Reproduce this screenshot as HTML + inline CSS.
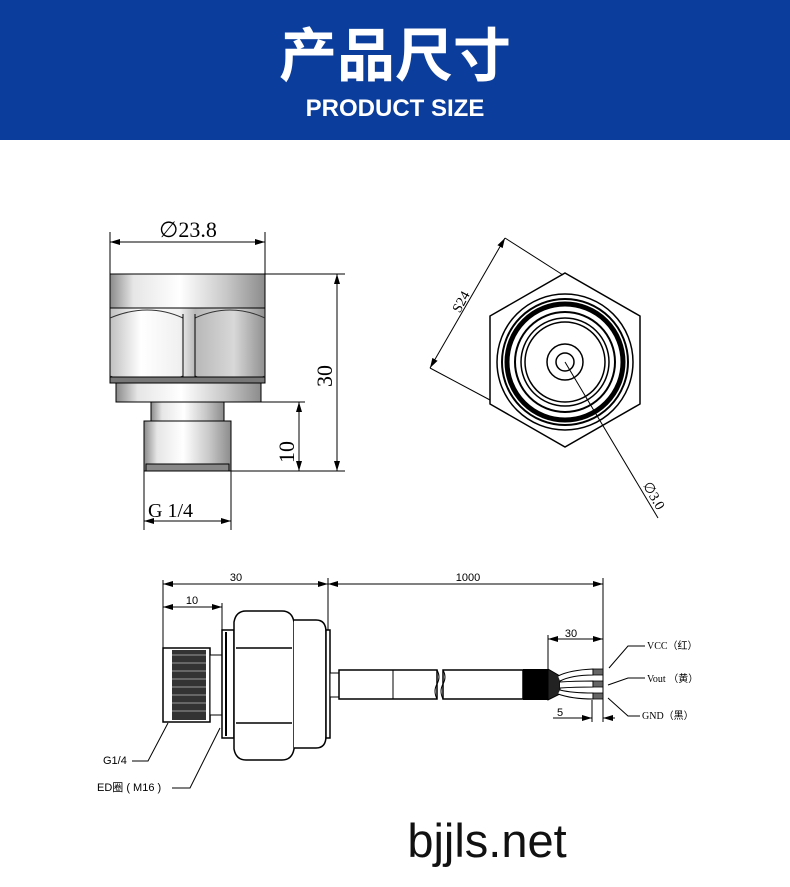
<!DOCTYPE html>
<html><head><meta charset="utf-8"><style>
html,body{margin:0;padding:0;background:#fff;}
body{width:790px;height:887px;overflow:hidden;position:relative;}
.hd{position:absolute;left:0;top:0;width:790px;height:140px;background:#0b3e9c;}
</style></head><body>
<div class="hd"></div>
<svg width="790" height="887" style="position:absolute;left:0;top:0" xmlns="http://www.w3.org/2000/svg">
<defs>
<linearGradient id="m" x1="0" x2="1" y1="0" y2="0">
<stop offset="0" stop-color="#8a8a8a"/><stop offset="0.15" stop-color="#e6e6e6"/><stop offset="0.45" stop-color="#ffffff"/><stop offset="0.75" stop-color="#c8c8c8"/><stop offset="1" stop-color="#8c8c8c"/></linearGradient>
<linearGradient id="h" x1="0" x2="1" y1="0" y2="0">
<stop offset="0" stop-color="#c0c0c0"/><stop offset="0.2" stop-color="#ffffff"/><stop offset="0.45" stop-color="#f0f0f0"/><stop offset="0.55" stop-color="#b8b8b8"/><stop offset="0.8" stop-color="#d8d8d8"/><stop offset="1" stop-color="#909090"/></linearGradient>
<marker id="a" viewBox="0 0 10 6" refX="10" refY="3" markerWidth="10" markerHeight="6" orient="auto-start-reverse" markerUnits="userSpaceOnUse"><path d="M0,0L10,3L0,6z" fill="#000"/></marker>
</defs>
<text x="395" y="76" text-anchor="middle" fill="#fff" font-family="'Noto Sans CJK SC',sans-serif" font-weight="bold" font-size="58">产品尺寸</text>
<text x="395" y="116" text-anchor="middle" fill="#fff" font-family="'Liberation Sans',sans-serif" font-weight="bold" font-size="24">PRODUCT SIZE</text>

<g stroke="#000" stroke-width="1" fill="none">
<line x1="110" y1="232" x2="110" y2="274"/><line x1="265" y1="232" x2="265" y2="274"/>
<line x1="110" y1="242" x2="265" y2="242" marker-start="url(#a)" marker-end="url(#a)"/>
<rect x="110" y="274" width="155" height="34" fill="url(#m)"/>
<rect x="110" y="308" width="155" height="75" fill="url(#h)"/>
<path d="M110,318 Q148,302 183,318 M195,318 Q230,302 265,318 M110,376 Q148,392 183,376 M195,376 Q230,392 265,376" stroke="#333"/>
<line x1="183" y1="314" x2="183" y2="378"/><line x1="195" y1="314" x2="195" y2="378"/>
<rect x="110" y="377" width="155" height="6" fill="#777"/>
<rect x="116" y="383" width="145" height="19" fill="url(#m)"/>
<rect x="151" y="402" width="73" height="20" fill="url(#m)"/>
<rect x="144" y="421" width="87" height="50" fill="url(#m)"/>
<rect x="146" y="464" width="83" height="7" fill="#888"/>
<line x1="265" y1="274" x2="345" y2="274"/><line x1="231" y1="471" x2="345" y2="471"/>
<line x1="337" y1="274" x2="337" y2="471" marker-start="url(#a)" marker-end="url(#a)"/>
<line x1="261" y1="402" x2="305" y2="402"/>
<line x1="299" y1="402" x2="299" y2="471" marker-start="url(#a)" marker-end="url(#a)"/>
<line x1="144" y1="471" x2="144" y2="530"/><line x1="231" y1="471" x2="231" y2="530"/>
<line x1="144" y1="521" x2="231" y2="521" marker-start="url(#a)" marker-end="url(#a)"/>

<polygon points="565,273 640,316 640,404 565,447 490,404 490,316" stroke-width="1.5"/>
<circle cx="565" cy="362" r="68" stroke-width="1.5"/>
<circle cx="565" cy="362" r="63" stroke-width="2"/>
<circle cx="565" cy="362" r="58" stroke-width="5"/>
<circle cx="565" cy="362" r="50" stroke-width="2"/>
<circle cx="565" cy="362" r="44" stroke-width="1.5"/>
<circle cx="565" cy="362" r="40" stroke-width="1.5"/>
<circle cx="565" cy="362" r="18" stroke-width="1.5"/>
<circle cx="565" cy="362" r="9" stroke-width="1.5"/>
<line x1="565" y1="362" x2="658" y2="518"/>
<line x1="505" y1="238" x2="563" y2="275"/>
<line x1="430" y1="368" x2="490" y2="400"/>
<line x1="505" y1="238" x2="430" y2="368" marker-start="url(#a)" marker-end="url(#a)"/>

<line x1="163" y1="580" x2="163" y2="650"/><line x1="222" y1="603" x2="222" y2="630"/>
<line x1="328" y1="578" x2="328" y2="632"/><line x1="603" y1="578" x2="603" y2="722"/>
<line x1="163" y1="584" x2="328" y2="584" marker-start="url(#a)" marker-end="url(#a)"/>
<line x1="328" y1="584" x2="603" y2="584" marker-start="url(#a)" marker-end="url(#a)"/>
<line x1="163" y1="607" x2="222" y2="607" marker-start="url(#a)" marker-end="url(#a)"/>
<rect x="163" y="648" width="47" height="74" fill="#fff" stroke-width="1.5"/>
<rect x="172" y="650" width="34" height="70" fill="#333" stroke="none"/>
<path d="M172,655H206M172,663H206M172,671H206M172,679H206M172,687H206M172,695H206M172,703H206M172,711H206" stroke="#777" stroke-width="1.5"/>
<rect x="210" y="655" width="12" height="60" fill="#fff"/>
<rect x="222" y="630" width="12" height="108" fill="#fff" stroke-width="1.5"/>
<line x1="226" y1="632" x2="226" y2="736" stroke-width="2"/>
<path d="M234,622 Q236,611 246,611 H282 Q292,611 294,622 V749 Q292,760 282,760 H246 Q236,760 234,749Z" fill="#fff" stroke-width="1.5"/>
<line x1="236" y1="648" x2="292" y2="648" stroke-width="1.5"/><line x1="236" y1="723" x2="292" y2="723" stroke-width="1.5"/>
<path d="M294,620 H316 Q326,620 326,632 V736 Q326,748 316,748 H294" fill="#fff" stroke-width="1.5"/>
<rect x="326" y="630" width="4" height="108" fill="#fff" stroke-width="1.5"/>
<rect x="330" y="673" width="9" height="24" fill="#fff"/>
<rect x="339" y="670" width="98" height="29" fill="#fff" stroke-width="1.5"/>
<line x1="393" y1="670" x2="393" y2="699"/>
<rect x="443" y="670" width="80" height="29" fill="#fff" stroke-width="1.5"/>
<path d="M437,670 q4,7 0,14 q-4,7 0,15 M443,670 q4,7 0,14 q-4,7 0,15" />
<rect x="523" y="669" width="25" height="31" fill="#000" stroke="none"/>
<path d="M548,669 L560,676 L560,694 L548,700Z" fill="#222"/>
<path d="M558,676 Q570,670 593,669 V675 Q572,675 560,681 M560,682 Q575,681 593,681 V687 Q575,687 560,688 M560,690 Q572,693 593,693 V699 Q572,699 558,694" fill="#fff"/>
<rect x="593" y="669" width="10" height="6" fill="#666" stroke-width="0.8"/>
<rect x="593" y="681" width="10" height="6" fill="#666" stroke-width="0.8"/>
<rect x="593" y="693" width="10" height="6" fill="#666" stroke-width="0.8"/>
<line x1="548" y1="635" x2="548" y2="670"/>
<line x1="548" y1="639" x2="603" y2="639" marker-start="url(#a)" marker-end="url(#a)"/>
<line x1="592" y1="700" x2="592" y2="722"/>
<line x1="553" y1="718" x2="592" y2="718" marker-end="url(#a)"/>
<line x1="615" y1="718" x2="603" y2="718" marker-end="url(#a)"/>
<polyline points="645,646 628,646 609,668"/>
<polyline points="645,678 628,678 608,685"/>
<polyline points="640,716 628,716 608,698"/>
<polyline points="132,761 148,761 168,723"/>
<polyline points="172,788 190,788 220,728"/>
</g>

<g font-family="'Liberation Serif',serif" fill="#000">
<text x="188" y="237" font-size="22" text-anchor="middle">∅23.8</text>
<text x="148" y="517" font-size="20">G 1/4</text>
<text transform="translate(332,376) rotate(-90)" font-size="22" text-anchor="middle">30</text>
<text transform="translate(294,452) rotate(-90)" font-size="22" text-anchor="middle">10</text>
<text transform="translate(465,304) rotate(-62)" font-size="14" text-anchor="middle">S24</text>
<text transform="translate(650,498) rotate(60)" font-size="14" text-anchor="middle">∅3.0</text>
<g font-size="10"><text x="647" y="649">VCC（红）</text><text x="647" y="682">Vout （黄）</text><text x="642" y="719">GND（黑）</text></g>
</g>
<g font-family="'Liberation Sans','Noto Sans CJK SC',sans-serif" fill="#000" font-size="11">
<text x="236" y="581" text-anchor="middle">30</text>
<text x="468" y="581" text-anchor="middle">1000</text>
<text x="192" y="604" text-anchor="middle">10</text>
<text x="571" y="637" text-anchor="middle">30</text>
<text x="560" y="716" text-anchor="middle">5</text>
<text x="103" y="764">G1/4</text>
<text x="97" y="791">ED圈 ( M16 )</text>
</g>
<text x="487" y="857" text-anchor="middle" font-family="'Liberation Sans',sans-serif" font-size="47" fill="#111">bjjls.net</text>
</svg>
</body></html>
